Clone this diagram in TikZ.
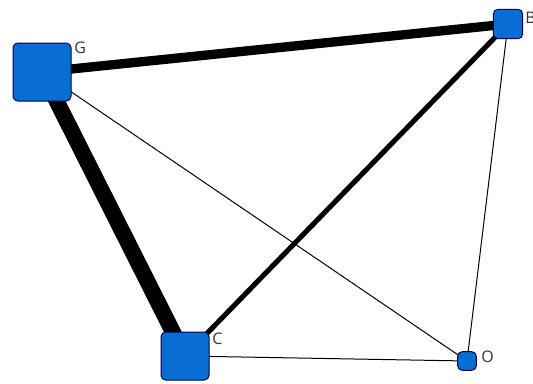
\documentclass[tikz,border=0pt]{standalone}
\usepackage{fontspec}
\setmainfont{Open Sans}
\begin{document}
\begin{tikzpicture}[x=0.75pt,y=-0.75pt,
  vbox/.style={draw=black!70!blue, line width=0.75pt, fill={rgb,255:red,8;green,110;blue,212}, rounded corners=3.5pt, inner sep=0pt},
  lab/.style={font=\fontsize{12}{14}\selectfont, text=black!80, inner sep=0pt, anchor=west},
  edge/.style={draw=black}]
\useasboundingbox (0,0) rectangle (533,383);
% edges first
\coordinate (g) at (42,72);
\coordinate (b) at (508,24);
\coordinate (c) at (185,356);
\coordinate (o) at (467,361);
\draw[edge, line width=0.75pt] (g) -- (o);
\draw[edge, line width=0.75pt] (c) -- (o);
\draw[edge, line width=0.75pt] (b) -- (o);
\draw[edge, line width=3.8pt] (c) -- (b);
\draw[edge, line width=7pt] (g) -- (b);
\draw[edge, line width=12pt] (g) -- (c);
% nodes
\node[vbox, minimum size=43.5pt] (G) at (g) {};
\node[vbox, minimum size=22pt] (B) at (b) {};
\node[vbox, minimum size=36pt] (C) at (c) {};
\node[vbox, minimum size=14pt] (O) at (o) {};
% labels
\node[lab] (Gl) at (74,48) {G};
\node[lab] (Bl) at (525,18) {B};
\node[lab] (Cl) at (212,339) {C};
\node[lab] (Ol) at (481,357) {O};
\end{tikzpicture}
\end{document}
